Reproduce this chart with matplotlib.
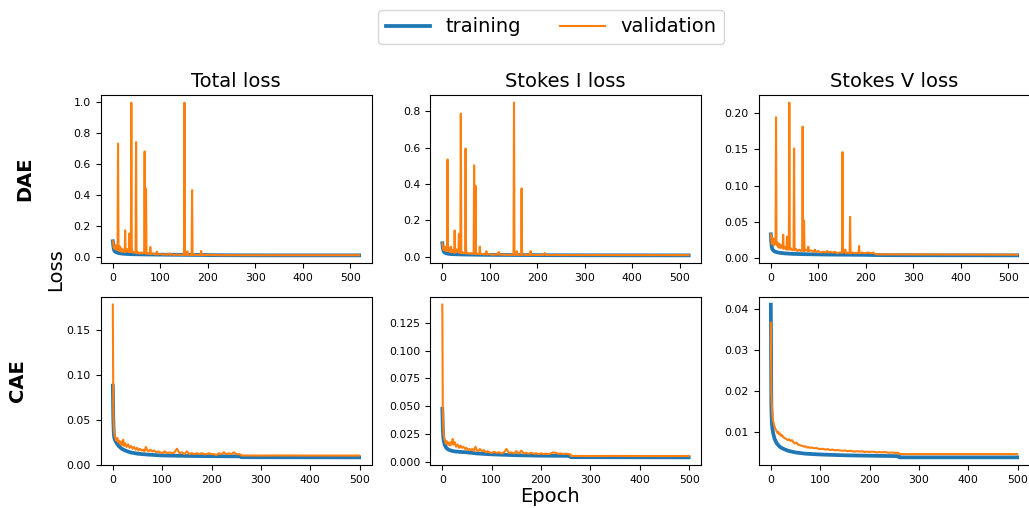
import matplotlib
matplotlib.use("Agg")
import matplotlib.pyplot as plt
from matplotlib.ticker import MaxNLocator

# ---------------- data ----------------
panel_titles = ["Total loss", "Stokes I loss", "Stokes V loss"]
row_names = ["DAE", "CAE"]

# DAE: training curves
dae_train_epochs = [0, 1, 2, 3, 5, 8, 12, 20, 30, 45, 65, 90, 120, 160, 200, 222, 260, 350, 519]
dae_train_total = [0.10, 0.07, 0.05, 0.04, 0.033, 0.028, 0.024, 0.02, 0.018, 0.016, 0.015, 0.014,
                   0.013, 0.012, 0.011, 0.010, 0.0095, 0.009, 0.009]
dae_train_stokes_i = [0.074, 0.05, 0.035, 0.028, 0.022, 0.019, 0.016, 0.014, 0.013, 0.012, 0.011, 0.010,
                      0.0095, 0.009, 0.0085, 0.008, 0.0078, 0.0075, 0.0072]
dae_train_stokes_v = [0.033, 0.022, 0.016, 0.013, 0.011, 0.0095, 0.0085, 0.0075, 0.0068, 0.0062, 0.0058,
                      0.0055, 0.0052, 0.005, 0.0048, 0.0045, 0.0043, 0.0042, 0.0041]

# DAE: validation curves
dae_val_epochs = [0, 2, 4, 6, 8, 10, 11, 12, 14, 16, 18, 20, 22, 25, 26, 27, 30, 33, 34, 35, 36, 38, 39, 40,
                  42, 45, 48, 49, 50, 53, 56, 60, 63, 66, 67, 68, 69, 70, 71, 74, 78, 79, 80, 85, 90, 93, 94,
                  100, 105, 110, 115, 119, 120, 125, 130, 135, 140, 145, 150, 151, 152, 156, 157, 158, 162,
                  166, 167, 168, 172, 178, 185, 186, 187, 192, 198, 205, 212, 216, 217, 222, 519]
dae_val_total = [0.10, 0.06, 0.05, 0.075, 0.045, 0.05, 0.73, 0.04, 0.07, 0.035, 0.055, 0.03, 0.045, 0.03,
                 0.17, 0.03, 0.05, 0.03, 0.04, 0.15, 0.03, 0.035, 0.995, 0.03, 0.035, 0.025, 0.03, 0.74,
                 0.022, 0.03, 0.02, 0.028, 0.02, 0.03, 0.68, 0.02, 0.025, 0.44, 0.02, 0.022, 0.018, 0.063,
                 0.018, 0.02, 0.015, 0.033, 0.015, 0.018, 0.014, 0.016, 0.013, 0.022, 0.013, 0.015, 0.012,
                 0.014, 0.012, 0.013, 0.012, 0.995, 0.012, 0.014, 0.035, 0.012, 0.013, 0.012, 0.43, 0.012,
                 0.013, 0.011, 0.012, 0.037, 0.011, 0.012, 0.011, 0.013, 0.011, 0.012, 0.011, 0.010, 0.010]
dae_val_stokes_i = [0.074, 0.04, 0.035, 0.055, 0.03, 0.035, 0.535, 0.03, 0.05, 0.025, 0.055, 0.025, 0.035,
                    0.022, 0.144, 0.022, 0.04, 0.025, 0.03, 0.125, 0.02, 0.028, 0.787, 0.02, 0.025, 0.018,
                    0.022, 0.595, 0.017, 0.022, 0.016, 0.02, 0.015, 0.022, 0.503, 0.015, 0.02, 0.39, 0.015,
                    0.016, 0.014, 0.055, 0.014, 0.015, 0.012, 0.03, 0.012, 0.014, 0.011, 0.012, 0.011, 0.025,
                    0.011, 0.012, 0.01, 0.011, 0.01, 0.011, 0.01, 0.848, 0.01, 0.012, 0.03, 0.01, 0.011, 0.01,
                    0.376, 0.01, 0.011, 0.01, 0.01, 0.03, 0.01, 0.01, 0.009, 0.01, 0.009, 0.02, 0.009, 0.009,
                    0.0085]
dae_val_stokes_v = [0.033, 0.02, 0.028, 0.018, 0.026, 0.02, 0.194, 0.018, 0.022, 0.015, 0.02, 0.014, 0.018,
                    0.014, 0.0325, 0.013, 0.016, 0.012, 0.03, 0.014, 0.012, 0.015, 0.214, 0.012, 0.014, 0.011,
                    0.013, 0.151, 0.011, 0.013, 0.01, 0.012, 0.01, 0.012, 0.181, 0.01, 0.015, 0.052, 0.01,
                    0.012, 0.01, 0.016, 0.01, 0.011, 0.009, 0.012, 0.009, 0.01, 0.008, 0.009, 0.008, 0.01,
                    0.008, 0.009, 0.008, 0.009, 0.007, 0.008, 0.008, 0.146, 0.008, 0.009, 0.012, 0.007, 0.008,
                    0.007, 0.057, 0.007, 0.008, 0.007, 0.008, 0.017, 0.007, 0.008, 0.007, 0.008, 0.007, 0.008,
                    0.007, 0.0055, 0.0050]

# CAE: training curves
cae_train_epochs = [0, 1, 2, 3, 5, 8, 12, 18, 25, 35, 50, 70, 100, 150, 200, 259, 260, 350, 499]
cae_train_total = [0.088, 0.05, 0.035, 0.03, 0.027, 0.024, 0.021, 0.018, 0.016, 0.014, 0.0125, 0.0115,
                   0.0105, 0.010, 0.0097, 0.0095, 0.0086, 0.0085, 0.0084]
cae_train_stokes_i = [0.048, 0.03, 0.022, 0.019, 0.0155, 0.013, 0.0115, 0.0105, 0.0098, 0.0094, 0.009,
                      0.008, 0.0072, 0.0064, 0.006, 0.0058, 0.0047, 0.0046, 0.0045]
cae_train_stokes_v = [0.0410, 0.0165, 0.0125, 0.011, 0.0095, 0.0082, 0.0072, 0.0064, 0.0059, 0.0054, 0.0050,
                      0.0047, 0.0045, 0.0043, 0.0042, 0.0041, 0.0038, 0.0038, 0.0038]

# CAE: validation curves
cae_val_epochs = [0, 1, 2, 3, 4, 5, 7, 9, 11, 13, 15, 17, 19, 21, 23, 25, 28, 31, 34, 37, 40, 43, 46, 49,
                  52, 55, 58, 61, 64, 67, 70, 73, 76, 80, 84, 88, 92, 96, 100, 105, 110, 115, 120, 125, 130,
                  135, 140, 145, 150, 155, 160, 165, 170, 175, 180, 185, 190, 195, 200, 205, 210, 215, 220,
                  225, 230, 235, 240, 245, 250, 255, 259, 260, 300, 350, 400, 450, 499]
cae_val_total = [0.178, 0.06, 0.042, 0.035, 0.032, 0.03, 0.027, 0.03, 0.025, 0.027, 0.023, 0.026, 0.022,
                 0.028, 0.021, 0.024, 0.02, 0.023, 0.019, 0.021, 0.018, 0.02, 0.017, 0.019, 0.016, 0.018,
                 0.016, 0.017, 0.015, 0.02, 0.016, 0.015, 0.017, 0.015, 0.016, 0.014, 0.015, 0.014, 0.013,
                 0.015, 0.013, 0.014, 0.013, 0.014, 0.018, 0.013, 0.014, 0.012, 0.015, 0.012, 0.013, 0.012,
                 0.013, 0.012, 0.013, 0.012, 0.012, 0.013, 0.012, 0.012, 0.011, 0.013, 0.012, 0.014, 0.012,
                 0.013, 0.012, 0.014, 0.012, 0.012, 0.0115, 0.0105, 0.0104, 0.0105, 0.0104, 0.0104, 0.0104]
cae_val_stokes_i = [0.141, 0.045, 0.03, 0.024, 0.021, 0.02, 0.017, 0.019, 0.016, 0.018, 0.015, 0.018, 0.016,
                    0.021, 0.016, 0.018, 0.014, 0.016, 0.013, 0.015, 0.013, 0.014, 0.012, 0.013, 0.011, 0.012,
                    0.011, 0.012, 0.010, 0.014, 0.011, 0.010, 0.012, 0.010, 0.011, 0.009, 0.010, 0.009, 0.0085,
                    0.0095, 0.0085, 0.009, 0.008, 0.009, 0.012, 0.0085, 0.009, 0.008, 0.010, 0.008, 0.0105,
                    0.008, 0.0085, 0.0078, 0.0085, 0.0078, 0.008, 0.0075, 0.008, 0.0075, 0.0078, 0.0075, 0.008,
                    0.009, 0.0085, 0.0078, 0.008, 0.0075, 0.0078, 0.0075, 0.0072, 0.0058, 0.0057, 0.0058,
                    0.0057, 0.0057, 0.0057]
cae_val_stokes_v = [0.0366, 0.020, 0.0165, 0.0145, 0.013, 0.0125, 0.0115, 0.0108, 0.0104, 0.0098, 0.0100,
                    0.0094, 0.0096, 0.0090, 0.0092, 0.0087, 0.0085, 0.0083, 0.0080, 0.0082, 0.0078, 0.0080,
                    0.0074, 0.0072, 0.0074, 0.0069, 0.0068, 0.0067, 0.0066, 0.0064, 0.0065, 0.0062, 0.0063,
                    0.0061, 0.0062, 0.0060, 0.0061, 0.0059, 0.0058, 0.0059, 0.0057, 0.0058, 0.0056, 0.0057,
                    0.0055, 0.0056, 0.0055, 0.0054, 0.0055, 0.0053, 0.0054, 0.0053, 0.0052, 0.0053, 0.0052,
                    0.0053, 0.0051, 0.0052, 0.0051, 0.0052, 0.0051, 0.0050, 0.0051, 0.0050, 0.0051, 0.0050,
                    0.0049, 0.0050, 0.0049, 0.0049, 0.0049, 0.0046, 0.0046, 0.0046, 0.0046, 0.0046, 0.0046]

rows = [
    (dae_train_epochs, [dae_train_total, dae_train_stokes_i, dae_train_stokes_v],
     dae_val_epochs, [dae_val_total, dae_val_stokes_i, dae_val_stokes_v]),
    (cae_train_epochs, [cae_train_total, cae_train_stokes_i, cae_train_stokes_v],
     cae_val_epochs, [cae_val_total, cae_val_stokes_i, cae_val_stokes_v]),
]

# ---------------- figure ----------------
W, H = 1029, 508
fig = plt.figure(figsize=(W / 100, H / 100), dpi=100)

col_left = [100.5, 430, 758.5]
ax_w = 271
row_top = [95, 297]
ax_h = 168

train_color = "#1f77b4"
val_color = "#ff7f0e"

lines_for_legend = None
for r, (tr_ep, tr_vals, va_ep, va_vals) in enumerate(rows):
    for c in range(3):
        ax = fig.add_axes([col_left[c] / W, 1 - (row_top[r] + ax_h) / H, ax_w / W, ax_h / H])
        l1, = ax.plot(tr_ep, tr_vals[c], color=train_color, lw=2.7, label="training")
        l2, = ax.plot(va_ep, va_vals[c], color=val_color, lw=1.5, label="validation")
        ax.xaxis.set_major_locator(MaxNLocator(nbins=7, steps=[1, 2, 2.5, 5, 10]))
        ax.yaxis.set_major_locator(MaxNLocator(nbins=7, steps=[1, 2, 2.5, 5, 10]))
        ax.tick_params(labelsize=7.8)
        if r == 0:
            ax.set_title(panel_titles[c], fontsize=14)
        lines_for_legend = (l1, l2)

fig.legend(lines_for_legend, ["training", "validation"], loc="upper center",
           bbox_to_anchor=(551 / W, 1.0), ncol=2, fontsize=14, frameon=True,
           handlelength=2.3)

fig.text(25 / W, 1 - 178.5 / H, row_names[0], rotation=90, fontsize=14, fontweight="bold",
         ha="center", va="center")
fig.text(17.5 / W, 1 - 381 / H, row_names[1], rotation=90, fontsize=14, fontweight="bold",
         ha="center", va="center")
fig.text(56 / W, 1 - 270 / H, "Loss", rotation=90, fontsize=14, ha="center", va="center")
fig.text(550 / W, 1 - 497 / H, "Epoch", fontsize=14, ha="center", va="center")

fig.savefig("out.png", dpi=100)
